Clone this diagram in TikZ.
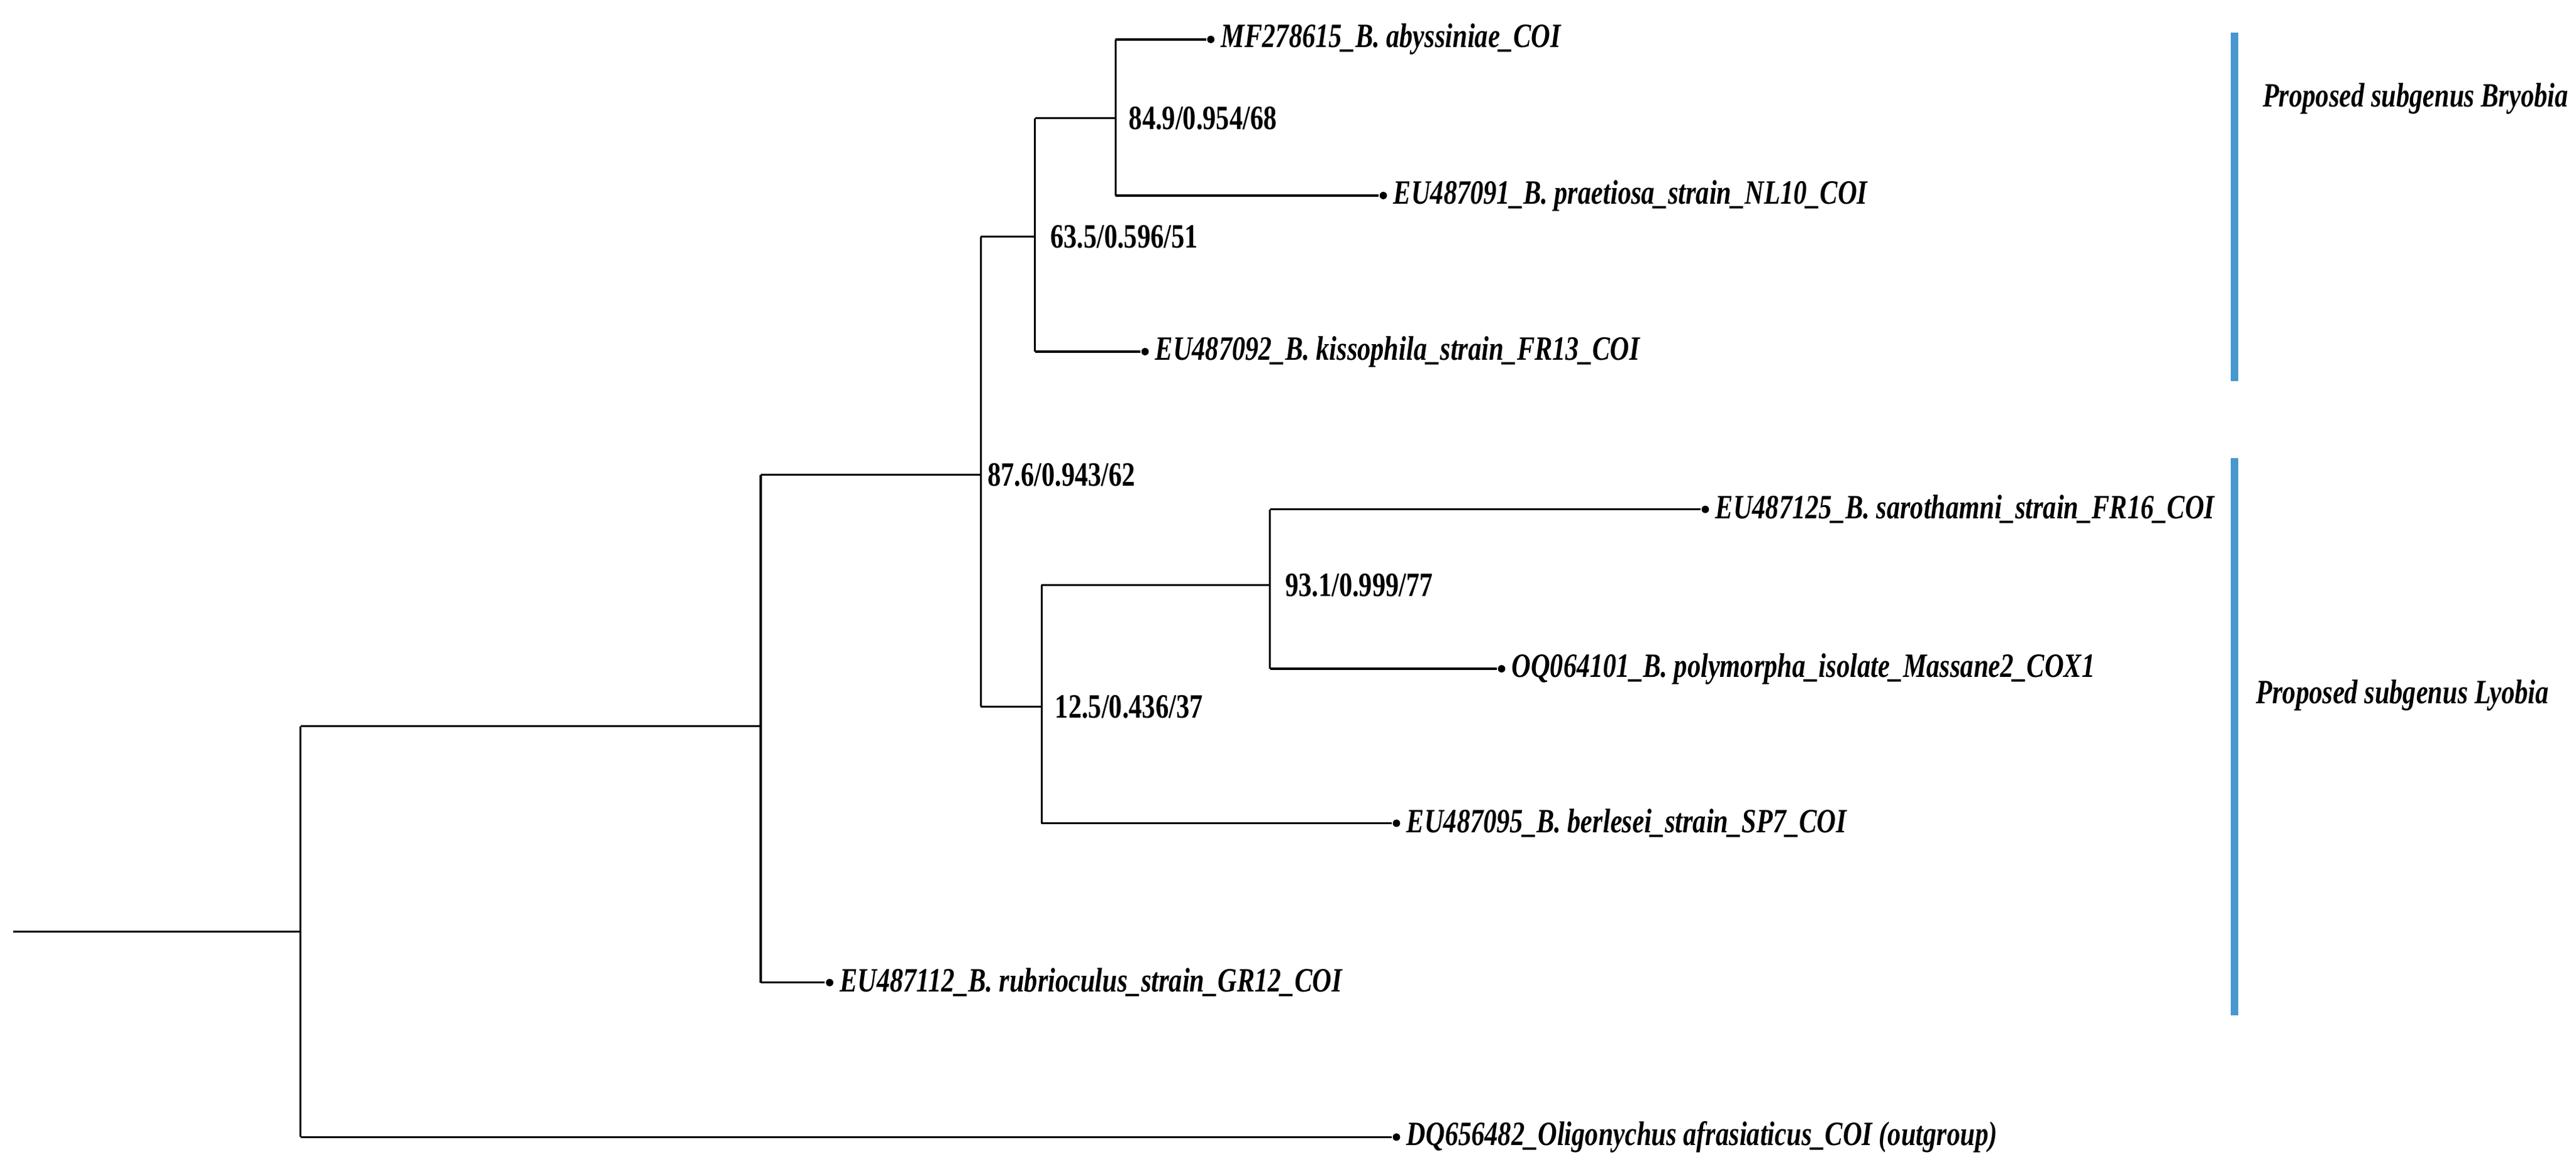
\documentclass[tikz,border=0pt]{standalone}
\usepackage{fontspec}
\setmainfont{Liberation Serif}
\begin{document}
\begin{tikzpicture}[x=0.1mm,y=-0.1mm,
  br/.style={line width=0.35pt,black},
  tip/.style={circle,fill=black,inner sep=0pt,minimum size=0.45mm},
  leaf/.style={anchor=west,inner sep=1pt,font=\fontsize{5.9}{7}\selectfont\bfseries\itshape,xscale=0.78},
  sup/.style={anchor=west,inner sep=1pt,font=\fontsize{5.9}{7}\selectfont\bfseries,xscale=0.78},
  bar/.style={line width=0.45mm,color={rgb,255:red,70;green,152;blue,206}}]
\useasboundingbox (0,0) rectangle (1568,710);
% internal nodes
\coordinate (r0) at (8,567);
\coordinate (A) at (183,567); \coordinate (At) at (183,442); \coordinate (Ab) at (183,692);
\coordinate (C) at (463,442); \coordinate (Ct) at (463,289); \coordinate (Cb) at (463,598);
\coordinate (D) at (597,289); \coordinate (Dt) at (597,144); \coordinate (Db) at (597,430);
\coordinate (E) at (630,144); \coordinate (Et) at (630,72); \coordinate (Eb) at (630,214);
\coordinate (G) at (679,72); \coordinate (Gt) at (679,24); \coordinate (Gb) at (679,119);
\coordinate (F) at (634,430); \coordinate (Ft) at (634,356); \coordinate (Fb) at (634,501);
\coordinate (H) at (773,356); \coordinate (Ht) at (773,310); \coordinate (Hb) at (773,407);
% leaves
\node[tip] (l1) at (737,24) {};
\node[tip] (l2) at (842,119) {};
\node[tip] (l3) at (697,214) {};
\node[tip] (l4) at (1038,310) {};
\node[tip] (l5) at (914,407) {};
\node[tip] (l6) at (850,501) {};
\node[tip] (l7) at (505,598) {};
\node[tip] (l8) at (850,692) {};
% branches
\draw[br] (r0) -- (A);
\draw[br] (At) -- (Ab);
\draw[br] (At) -- (C); \draw[br] (Ab) -- (l8);
\draw[br] (Ct) -- (Cb);
\draw[br] (Ct) -- (D); \draw[br] (Cb) -- (l7);
\draw[br] (Dt) -- (Db);
\draw[br] (Dt) -- (E); \draw[br] (Db) -- (F);
\draw[br] (Et) -- (Eb);
\draw[br] (Et) -- (G); \draw[br] (Eb) -- (l3);
\draw[br] (Gt) -- (Gb);
\draw[br] (Gt) -- (l1); \draw[br] (Gb) -- (l2);
\draw[br] (Ft) -- (Fb);
\draw[br] (Ft) -- (H); \draw[br] (Fb) -- (l6);
\draw[br] (Ht) -- (Hb);
\draw[br] (Ht) -- (l4); \draw[br] (Hb) -- (l5);
% leaf labels
\node[leaf] (t1) at (l1.east) {MF278615\_B. abyssiniae\_COI};
\node[leaf] (t2) at (l2.east) {EU487091\_B. praetiosa\_strain\_NL10\_COI};
\node[leaf] (t3) at (l3.east) {EU487092\_B. kissophila\_strain\_FR13\_COI};
\node[leaf] (t4) at (l4.east) {EU487125\_B. sarothamni\_strain\_FR16\_COI};
\node[leaf] (t5) at (l5.east) {OQ064101\_B. polymorpha\_isolate\_Massane2\_COX1};
\node[leaf] (t6) at (l6.east) {EU487095\_B. berlesei\_strain\_SP7\_COI};
\node[leaf] (t7) at (l7.east) {EU487112\_B. rubrioculus\_strain\_GR12\_COI};
\node[leaf] (t8) at (l8.east) {DQ656482\_Oligonychus afrasiaticus\_COI (outgroup)};
% support values
\node[sup] (s1) at ([xshift=0.5mm]G) {84.9/0.954/68};
\node[sup] (s2) at ([xshift=0.6mm]E) {63.5/0.596/51};
\node[sup] (s3) at ([xshift=0.1mm]D) {87.6/0.943/62};
\node[sup] (s4) at ([xshift=0.5mm]F) {12.5/0.436/37};
\node[sup] (s5) at ([xshift=0.6mm]H) {93.1/0.999/77};
% clade bars
\coordinate (b1t) at (1360,20); \coordinate (b1b) at (1360,232);
\coordinate (b2t) at (1360,279); \coordinate (b2b) at (1360,618);
\draw[bar] (b1t) -- (b1b);
\draw[bar] (b2t) -- (b2b);
\node[leaf] (c1) at (1374,60) {Proposed subgenus Bryobia};
\node[leaf] (c2) at (1370,423) {Proposed subgenus Lyobia};
\end{tikzpicture}
\end{document}
